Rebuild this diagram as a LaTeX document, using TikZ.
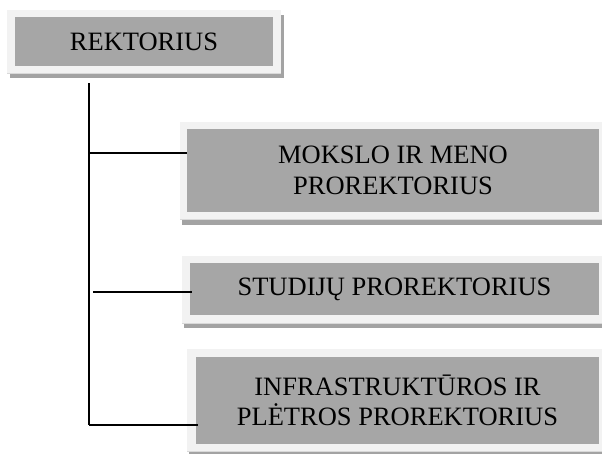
\documentclass[tikz,border=0pt]{standalone}
\usepackage{fontspec}
\setmainfont{Liberation Serif}
\definecolor{innergray}{HTML}{A6A6A6}
\definecolor{framegray}{HTML}{F2F2F2}
\definecolor{shadowgray}{HTML}{A3A3A3}
\definecolor{edgegray}{HTML}{D9D9D9}
\tikzset{
  boxtext/.style={fill=innergray, draw=none, align=center, inner sep=0pt,
    font=\fontsize{26.5}{30.5}\selectfont},
  frame/.style={fill=framegray},
  shadow/.style={fill=shadowgray},
  conn/.style={draw=black, line width=1.4pt}
}
\begin{document}
\begin{tikzpicture}[x=1pt, y=-1pt]
\useasboundingbox (0,0) rectangle (602,453);
% REKTORIUS
\fill[shadow] (10,15) rectangle (284,78);
\fill[frame] (7,10) rectangle (281,73);
\draw[edgegray, line width=0.8pt] (7,73) -- (281,73);
\node[boxtext, minimum width=258pt, minimum height=49pt] (rek) at (144,41.5) {REKTORIUS};
% MOKSLO
\fill[shadow] (182,127) rectangle (605,225);
\fill[frame] (180,122) rectangle (603,219);
\draw[edgegray, line width=0.8pt] (180,219) -- (603,219);
\node[boxtext, minimum width=412pt, minimum height=83pt] (mok) at (393,170.5) {MOKSLO IR MENO\\PROREKTORIUS};
% STUDIJU
\fill[shadow] (184,261) rectangle (605,328);
\fill[frame] (182,256) rectangle (603,323);
\draw[edgegray, line width=0.8pt] (182,323) -- (603,323);
\node[boxtext, minimum width=409pt, minimum height=52pt] (stu) at (394.5,289) {STUDIJŲ PROREKTORIUS};
% INFRA
\fill[shadow] (189,354) rectangle (605,456);
\fill[frame] (187,349) rectangle (603,451);
\draw[edgegray, line width=0.8pt] (187,451) -- (603,451);
\node[boxtext, minimum width=403pt, minimum height=87pt] (inf) at (397.5,400.5) {INFRASTRUKTŪROS IR\\PLĖTROS PROREKTORIUS};
% connectors
\coordinate (top) at (89,83);
\coordinate (t1) at (89,153);
\coordinate (t2) at (93,292);
\coordinate (t3) at (89,425);
\draw[conn] (top) -- (t3);
\draw[conn] (t1) -- (t1 -| mok.west);
\draw[conn] (t2) -- ([xshift=2pt]t2 -| stu.west);
\draw[conn] (t3) -- ([xshift=2pt]t3 -| inf.west);
\end{tikzpicture}
\end{document}
